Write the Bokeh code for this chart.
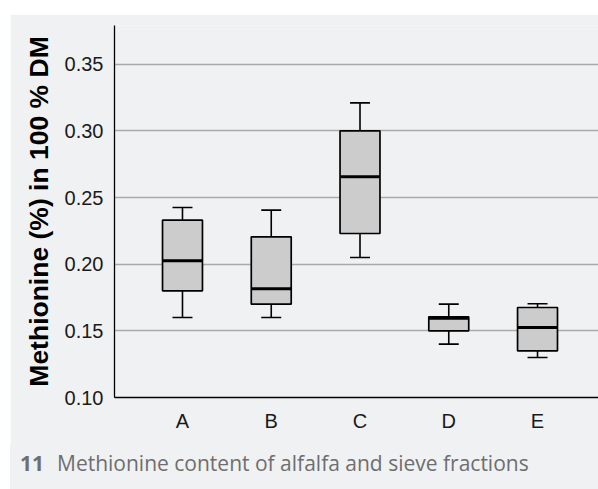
from bokeh.plotting import figure
from bokeh.models import Range1d, FixedTicker, ColumnDataSource, Div
from bokeh.layouts import column
from bokeh.embed import file_html
from bokeh.resources import INLINE

categories = ["A", "B", "C", "D", "E"]
lower_whisker = [0.160, 0.160, 0.205, 0.140, 0.130]
q1 = [0.180, 0.170, 0.223, 0.150, 0.135]
median = [0.2025, 0.1815, 0.2655, 0.1595, 0.1525]
q3 = [0.233, 0.2205, 0.300, 0.1605, 0.1675]
upper_whisker = [0.2425, 0.2405, 0.321, 0.170, 0.1703]
y_ticks = [0.10, 0.15, 0.20, 0.25, 0.30, 0.35]
caption_number = "11"
caption_text = "Methionine content of alfalfa and sieve fractions"

pos = [i + 1 for i in range(len(categories))]
box_w = 0.45
cap_w = 0.225
src = ColumnDataSource(dict(
    x=pos, lo=lower_whisker, q1=q1, med=median, q3=q3, hi=upper_whisker,
    cl=[p_ - cap_w / 2 for p_ in pos], cr=[p_ + cap_w / 2 for p_ in pos],
    bl=[p_ - box_w / 2 for p_ in pos], br=[p_ + box_w / 2 for p_ in pos],
))

BG = "#f0f1f3"
p = figure(width=588, height=431, output_backend="svg", toolbar_location=None,
           x_range=Range1d(0.234, 5.687), y_range=Range1d(0.10, 0.379),
           min_border_left=104, min_border_right=0, min_border_top=11, min_border_bottom=48,
           background_fill_color=BG, border_fill_color=BG, outline_line_color=None,
           margin=(14, 0, 0, 10))

# whiskers
p.segment(x0="x", y0="q3", x1="x", y1="hi", source=src, line_color="black", line_width=1.6)
p.segment(x0="x", y0="lo", x1="x", y1="q1", source=src, line_color="black", line_width=1.6)
p.segment(x0="cl", y0="hi", x1="cr", y1="hi", source=src, line_color="black", line_width=1.6)
p.segment(x0="cl", y0="lo", x1="cr", y1="lo", source=src, line_color="black", line_width=1.6)
# boxes
p.vbar(x="x", width=box_w, bottom="q1", top="q3", source=src,
       fill_color="#cccccc", line_color="black", line_width=1.7)
p.segment(x0="bl", y0="med", x1="br", y1="med", source=src, line_color="black", line_width=3)

# axes
p.xaxis.ticker = FixedTicker(ticks=pos)
p.xaxis.major_label_overrides = {p_: c for p_, c in zip(pos, categories)}
p.yaxis.ticker = FixedTicker(ticks=y_ticks)
p.yaxis.major_label_overrides = {t: f"{t:.2f}" for t in y_ticks}
for ax in (p.xaxis, p.yaxis):
    ax.major_tick_line_color = None
    ax.minor_tick_line_color = None
    ax.axis_line_color = "black"
    ax.axis_line_width = 1.3
    ax.major_label_text_font = "Liberation Sans"
    ax.major_label_text_font_size = "20px"
    ax.major_label_text_color = "#1a1a1a"
p.xaxis.major_label_standoff = 6
p.yaxis.major_label_standoff = 5
p.yaxis.axis_label = "Methionine (%) in 100 % DM"
p.yaxis.axis_label_text_font = "Liberation Sans"
p.yaxis.axis_label_text_font_style = "bold"
p.yaxis.axis_label_text_font_size = "26.5px"
p.yaxis.axis_label_text_color = "black"
p.yaxis.axis_label_standoff = 8

p.xgrid.grid_line_color = None
p.ygrid.grid_line_color = "#aaaaaa"
p.ygrid.grid_line_width = 1.5

# caption strip
cap = Div(
    text=(f'<div style="padding-left:10px; line-height:37px; font-family:\'Open Sans\'; '
          f'font-size:21px; color:#6e6e6e; white-space:nowrap">'
          f'<b>{caption_number}</b><span style="margin-left:13px">{caption_text}</span></div>'),
    width=588, height=44, margin=(0, 0, 0, 10),
    styles={"background-color": BG},
)

layout = column(p, cap, spacing=0)
open("out.html", "w").write(file_html(layout, INLINE))
